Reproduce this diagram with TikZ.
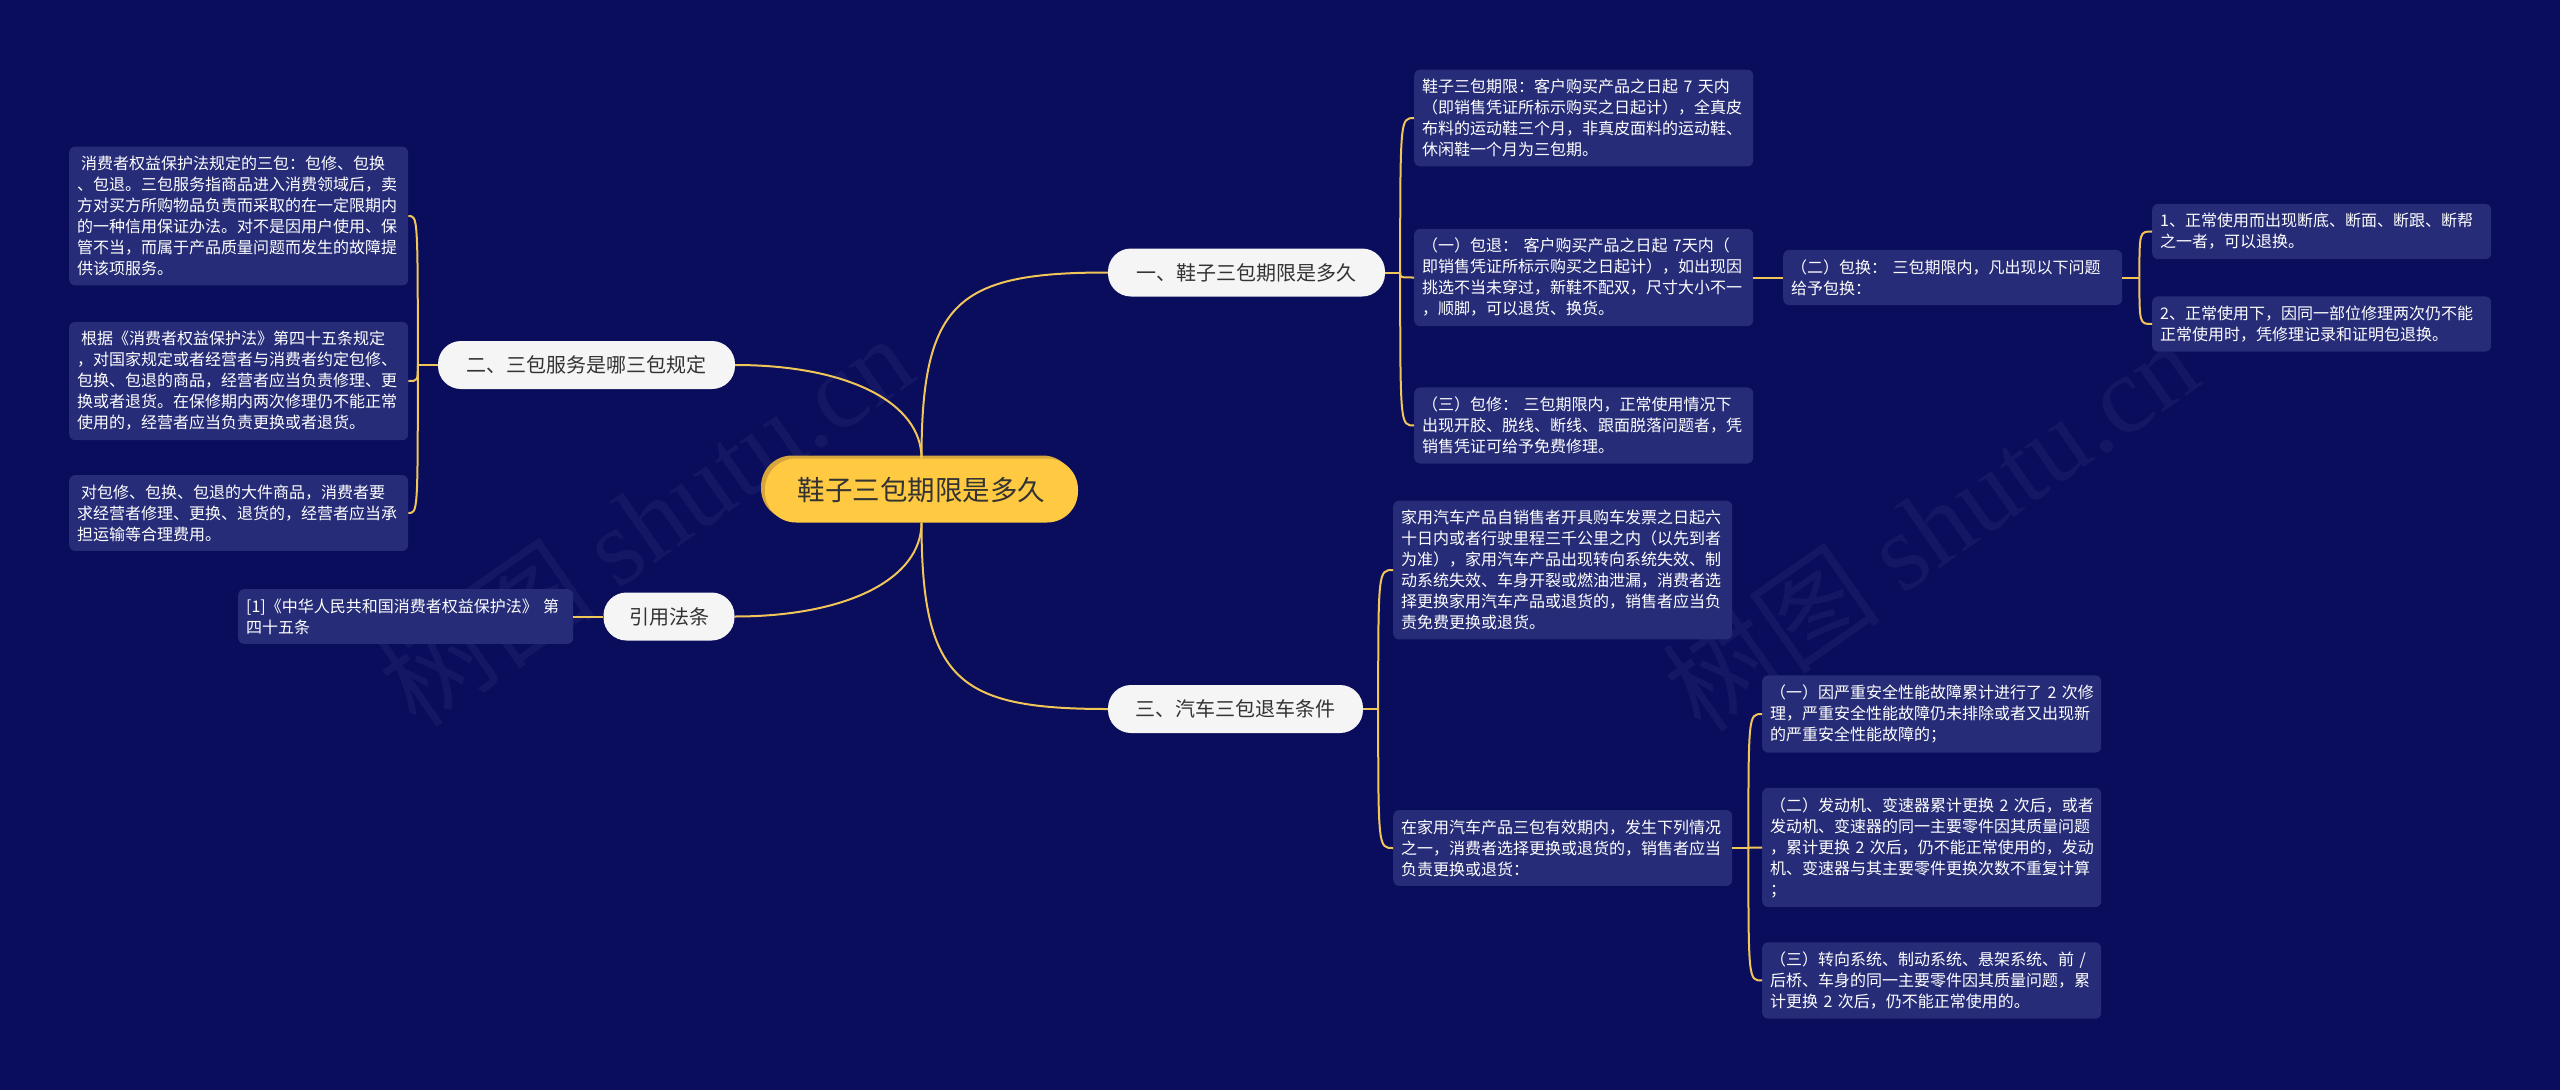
\documentclass[tikz,border=0pt]{standalone}
\usepackage{fontspec}
\newfontfamily\cjk{Noto Sans CJK SC}
\newfontfamily\wmserif{Liberation Serif}
\usetikzlibrary{calc,shadows}
\definecolor{bgc}{RGB}{10,12,92}
\definecolor{boxc}{RGB}{38,44,120}
\definecolor{linec}{RGB}{240,198,88}
\definecolor{rootc}{RGB}{255,201,66}
\definecolor{rootsh}{RGB}{214,166,60}
\definecolor{lvc}{RGB}{245,245,245}
\definecolor{darktxt}{RGB}{51,51,51}
\definecolor{wmc}{RGB}{20,23,100}
\begin{document}
\begin{tikzpicture}[x=1pt,y=-1pt,
  leaf/.style={fill=boxc, rounded corners=6pt, text=white,
    font=\cjk\fontsize{16pt}{21pt}\selectfont, align=left,
    text width=323pt, inner xsep=8pt, inner ysep=9.5pt},
  topic/.style={fill=lvc, rounded corners=23pt, text=darktxt,
    font=\cjk\fontsize{20pt}{24pt}\selectfont, minimum height=48pt,
    inner xsep=0pt, inner ysep=0pt},
  rootnode/.style={fill=rootc, rounded corners=31pt, text=darktxt,
    font=\cjk\fontsize{27.5pt}{32pt}\selectfont, minimum width=313pt,
    minimum height=64pt, inner sep=0pt,
    general shadow={fill=rootsh, shadow xshift=-4pt, shadow yshift=3pt}},
  link/.style={draw=linec, line width=2pt},
  wm/.style={text=wmc, rotate=35, inner sep=0pt}
]
\fill[bgc] (0,0) rectangle (2560,1090);
\useasboundingbox (0,0) rectangle (2560,1090);

% watermarks
\node[wm] (wm1) at (645,520) {\cjk\fontsize{110pt}{120pt}\selectfont 树图\ \wmserif shutu.cn};
\node[wm] (wm2) at (1930,525) {\cjk\fontsize{110pt}{120pt}\selectfont 树图\ \wmserif shutu.cn};

% root and topics
\node[rootnode] (root) at (921.5,490.5) {鞋子三包期限是多久};
\node[topic, minimum width=277pt] (A) at (1246.5,272.5) {一、鞋子三包期限是多久};
\node[topic, minimum width=255pt] (B) at (1235.5,709) {三、汽车三包退车条件};
\node[topic, minimum width=297pt] (C) at (586.5,365) {二、三包服务是哪三包规定};
\node[topic, minimum width=131pt] (D) at (669,616.5) {引用法条};

% leaves of A
\node[leaf, anchor=west] (A1) at (1414,118) {鞋子三包期限：客户购买产品之日起~7~天内\\（即销售凭证所标示购买之日起计），全真皮\\布料的运动鞋三个月，非真皮面料的运动鞋、\\休闲鞋一个月为三包期。};
\node[leaf, anchor=west] (A2) at (1414,277.5) {（一）包退：~客户购买产品之日起~7天内（\\即销售凭证所标示购买之日起计），如出现因\\挑选不当未穿过，新鞋不配双，尺寸大小不一\\，顺脚，可以退货、换货。};
\node[leaf, anchor=west] (A3) at (1414,425.5) {（三）包修：~三包期限内，正常使用情况下\\出现开胶、脱线、断线、跟面脱落问题者，凭\\销售凭证可给予免费修理。};
\node[leaf, anchor=west] (A2c) at (1783,277.5) {（二）包换：~三包期限内，凡出现以下问题\\给予包换：};
\node[leaf, anchor=west] (A2c1) at (2152,231.5) {1、正常使用而出现断底、断面、断跟、断帮\\之一者，可以退换。};
\node[leaf, anchor=west] (A2c2) at (2152,324) {2、正常使用下，因同一部位修理两次仍不能\\正常使用时，凭修理记录和证明包退换。};

% leaves of B
\node[leaf, anchor=west] (B1) at (1393,570) {家用汽车产品自销售者开具购车发票之日起六\\十日内或者行驶里程三千公里之内（以先到者\\为准），家用汽车产品出现转向系统失效、制\\动系统失效、车身开裂或燃油泄漏，消费者选\\择更换家用汽车产品或退货的，销售者应当负\\责免费更换或退货。};
\node[leaf, anchor=west] (B2) at (1393,848) {在家用汽车产品三包有效期内，发生下列情况\\之一，消费者选择更换或退货的，销售者应当\\负责更换或退货：};
\node[leaf, anchor=west] (B2a) at (1762,714) {（一）因严重安全性能故障累计进行了~2~次修\\理，严重安全性能故障仍未排除或者又出现新\\的严重安全性能故障的；};
\node[leaf, anchor=west] (B2b) at (1762,847.5) {（二）发动机、变速器累计更换~2~次后，或者\\发动机、变速器的同一主要零件因其质量问题\\，累计更换~2~次后，仍不能正常使用的，发动\\机、变速器与其主要零件更换次数不重复计算\\；};
\node[leaf, anchor=west] (B2c) at (1762,980.5) {（三）转向系统、制动系统、悬架系统、前~/\\后桥、车身的同一主要零件因其质量问题，累\\计更换~2~次后，仍不能正常使用的。};

% leaves of C
\node[leaf, anchor=west] (C1) at (69,216) {\hspace*{4pt}消费者权益保护法规定的三包：包修、包换\\、包退。三包服务指商品进入消费领域后，卖\\方对买方所购物品负责而采取的在一定限期内\\的一种信用保证办法。对不是因用户使用、保\\管不当，而属于产品质量问题而发生的故障提\\供该项服务。};
\node[leaf, anchor=west] (C2) at (69,381) {\hspace*{4pt}根据《消费者权益保护法》第四十五条规定\\，对国家规定或者经营者与消费者约定包修、\\包换、包退的商品，经营者应当负责修理、更\\换或者退货。在保修期内两次修理仍不能正常\\使用的，经营者应当负责更换或者退货。};
\node[leaf, anchor=west] (C3) at (69,513) {\hspace*{4pt}对包修、包换、包退的大件商品，消费者要\\求经营者修理、更换、退货的，经营者应当承\\担运输等合理费用。};

% leaf of D
\node[leaf, anchor=west, text width=319pt] (D1) at (238,616.5) {[1]《中华人民共和国消费者权益保护法》~第\\四十五条};

% root connectors
\coordinate (kA) at (root.north|-A.west);
\coordinate (kB) at (root.south|-B.west);
\coordinate (kC) at (root.north|-C.east);
\coordinate (kD) at (root.south|-D.east);
\draw[link] (root.north) .. controls ($(root.north)!0.85!(kA)$) and ($(A.west)!0.8!(kA)$) .. (A.west);
\draw[link] (root.south) .. controls ($(root.south)!0.85!(kB)$) and ($(B.west)!0.8!(kB)$) .. (B.west);
\draw[link] (root.north) .. controls ($(root.north)!0.6!(kC)$) and ($(C.east)!0.6!(kC)$) .. (C.east);
\draw[link] (root.south) .. controls ($(root.south)!0.6!(kD)$) and ($(D.east)!0.6!(kD)$) .. (D.east);

% brackets
\coordinate (sA) at ($(A.east)+(15,0)$);
\draw[link] (A.east) -- (sA);
\foreach \c in {A1,A2,A3} \draw[link] (sA) .. controls (sA|-\c.west) .. (\c.west);

\draw[link] (A2.east) -- (A2c.west);
\coordinate (sA2c) at ($(A2c.east)+(17,0)$);
\draw[link] (A2c.east) -- (sA2c);
\foreach \c in {A2c1,A2c2} \draw[link] (sA2c) .. controls (sA2c|-\c.west) .. (\c.west);

\coordinate (sB) at ($(B.east)+(15,0)$);
\draw[link] (B.east) -- (sB);
\foreach \c in {B1,B2} \draw[link] (sB) .. controls (sB|-\c.west) .. (\c.west);

\coordinate (sB2) at ($(B2.east)+(16,0)$);
\draw[link] (B2.east) -- (sB2);
\foreach \c in {B2a,B2b,B2c} \draw[link] (sB2) .. controls (sB2|-\c.west) .. (\c.west);

\coordinate (sC) at ($(C.west)+(-20,0)$);
\draw[link] (C.west) -- (sC);
\foreach \c in {C1,C2,C3} \draw[link] (sC) .. controls (sC|-\c.east) .. (\c.east);

\draw[link] (D.west) -- (D1.east);
\end{tikzpicture}
\end{document}
